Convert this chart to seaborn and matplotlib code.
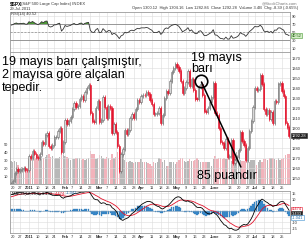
import matplotlib
matplotlib.use('Agg')

import numpy as np
import pandas as pd
import matplotlib.pyplot as plt
import seaborn as sns

sns.set_style("white")
plt.rcParams['font.family'] = ['Liberation Sans', 'DejaVu Sans']

# ─────────────────────────────────────────
# data: S&P 500 daily closes (Sep-Nov 2010 = warm-up for RSI / MACD)
# ─────────────────────────────────────────
close_sep = [1080.29, 1090.10, 1104.51, 1091.84, 1098.87, 1104.18, 1109.55, 1121.90, 1121.10, 1125.07,
             1124.66, 1125.59, 1142.71, 1139.78, 1134.28, 1124.83, 1148.67, 1142.16, 1147.70, 1144.73,
             1141.20]
close_oct = [1146.24, 1137.03, 1160.75, 1159.97, 1158.06, 1165.15, 1165.32, 1169.77, 1178.10, 1173.81,
             1176.19, 1184.71, 1165.90, 1178.17, 1180.26, 1183.08, 1185.62, 1185.64, 1182.45, 1183.78,
             1183.26]
close_nov = [1184.38, 1193.57, 1197.96, 1221.06, 1225.85, 1223.25, 1213.40, 1218.71, 1213.54, 1199.21,
             1197.75, 1178.34, 1178.59, 1196.69, 1199.73, 1197.84, 1180.73, 1198.35, 1189.40, 1187.76, 1180.55]
close_dec = [1206.07, 1221.53, 1224.71, 1223.12, 1223.75, 1228.28, 1233.00, 1240.40, 1240.46, 1241.59,
             1235.23, 1242.87, 1243.91, 1247.08, 1254.60, 1258.84, 1256.77, 1257.54, 1258.51, 1259.78,
             1257.88, 1257.64]
close_jan = [1271.87, 1270.20, 1276.56, 1273.85, 1271.50, 1269.75, 1274.48, 1285.96, 1283.76, 1293.24,
             1295.02, 1281.92, 1280.26, 1283.35, 1290.84, 1291.18, 1296.63, 1299.54, 1276.34, 1286.12]
close_feb = [1307.59, 1304.03, 1307.10, 1310.87, 1319.05, 1324.57, 1320.88, 1321.87, 1329.15, 1332.32,
             1328.01, 1336.32, 1340.43, 1343.01, 1315.44, 1307.40, 1306.10, 1319.88, 1327.22]
close_mar = [1306.33, 1308.44, 1330.97, 1321.15, 1310.13, 1321.82, 1320.02, 1295.11, 1304.28, 1296.39,
             1281.87, 1256.88, 1273.72, 1279.21, 1298.38, 1293.77, 1297.54, 1309.66, 1313.80, 1310.19,
             1319.44, 1328.26, 1325.83]
close_apr = [1332.41, 1332.87, 1332.63, 1335.54, 1333.51, 1328.17, 1324.46, 1314.16, 1314.41, 1314.52,
             1319.68, 1305.14, 1312.62, 1330.36, 1337.38, 1335.25, 1347.24, 1355.66, 1360.48, 1363.61]
close_may = [1361.22, 1356.62, 1347.32, 1335.10, 1340.20, 1346.29, 1357.16, 1342.08, 1348.65, 1337.77,
             1329.47, 1328.98, 1340.68, 1343.60, 1333.27, 1317.37, 1316.28, 1320.47, 1325.69, 1331.10,
             1345.20]
close_jun = [1314.55, 1312.94, 1300.16, 1286.17, 1284.94, 1279.56, 1289.00, 1270.98, 1271.83, 1287.87,
             1265.42, 1267.64, 1271.50, 1278.36, 1295.52, 1287.14, 1283.50, 1268.45, 1280.10, 1296.67,
             1307.41, 1320.64]
close_jul = [1339.67, 1337.88, 1339.22, 1353.22, 1343.80, 1319.49, 1313.64, 1317.72, 1308.87, 1316.14,
             1305.44, 1326.73, 1325.84, 1343.80, 1345.02, 1337.43, 1331.94, 1304.89, 1300.67, 1292.28]

# volume (left-axis units) from 17 Dec 2010 on
vol_dec = [29, 28, 29, 27, 24, 19, 21, 20, 21, 19]
vol_jan = [33, 34, 35, 34, 33, 33, 32, 35, 33, 34, 36, 38, 34, 35, 31, 33, 33, 34, 42, 36]
vol_feb = [35, 34, 32, 30, 31, 31, 33, 32, 33, 30, 31, 30, 31, 33, 41, 38, 37, 31, 33]
vol_mar = [36, 35, 33, 31, 34, 33, 30, 38, 33, 34, 40, 44, 38, 42, 30, 28, 27, 29, 27, 26, 27, 27, 28]
vol_apr = [31, 27, 28, 27, 26, 25, 23, 28, 26, 27, 32, 31, 28, 30, 22, 23, 27, 28, 27, 25]
vol_may = [28, 30, 32, 32, 29, 27, 29, 31, 29, 29, 30, 33, 30, 28, 28, 28, 27, 28, 27, 23, 31]
vol_jun = [35, 31, 33, 32, 31, 33, 31, 34, 31, 29, 35, 34, 40, 29, 30, 29, 29, 43, 30, 28, 30, 30]
vol_jul = [30, 24, 28, 30, 27, 31, 31, 30, 32, 32, 32, 31, 30, 33, 30, 31, 33, 36, 37, 37]

holidays = ['2010-09-06', '2010-11-25', '2010-12-24', '2011-01-17', '2011-02-21', '2011-04-22',
            '2011-05-30', '2011-07-04']

tick_dates = ['2010-12-20', '2010-12-27', '2011-01-03', '2011-01-10', '2011-01-18', '2011-01-24',
              '2011-02-01', '2011-02-07', '2011-02-14', '2011-02-22', '2011-03-01', '2011-03-07',
              '2011-03-14', '2011-03-21', '2011-03-28', '2011-04-01', '2011-04-11', '2011-04-18',
              '2011-04-25', '2011-05-02', '2011-05-09', '2011-05-16', '2011-05-23', '2011-06-01',
              '2011-06-13', '2011-06-20', '2011-06-27', '2011-07-01', '2011-07-11', '2011-07-18',
              '2011-07-25']
tick_labels = ['20', '27', '2011', '10', '18', '24', 'Feb', '7', '14', '22', 'Mar', '7', '14', '21', '28',
               'Apr', '11', '18', '25', 'May', '9', '16', '23', 'June', '13', '20', '27', 'Jul', '11',
               '18', '25']
month_labels = ['2011', 'Feb', 'Mar', 'Apr', 'May', 'June', 'Jul']

price_ticks = list(range(1250, 1380, 10))
rsi_ticks = [10, 30, 50, 70, 90]
vol_ticks = [10, 20, 30, 40, 50]
macd_ticks = [-15, -10, -5, 0, 5, 10, 15]

# last-value labels as printed on the chart
rsi_last = '40.52'
price_last = '1292.28'
macd_last = ['4.474', '3.433', '-1.041']   # signal, macd, histogram

# ─────────────────────────────────────────
# indicators
# ─────────────────────────────────────────
dates = pd.bdate_range('2010-09-01', '2011-07-29')
dates = dates[~dates.isin(pd.to_datetime(holidays))]
closes = (close_sep + close_oct + close_nov + close_dec + close_jan + close_feb + close_mar
          + close_apr + close_may + close_jun + close_jul)
df = pd.DataFrame({"date": dates, "close": closes})
df["open"] = df["close"].shift(1)

delta = df["close"].diff()
up = delta.clip(lower=0).ewm(alpha=1 / 14, adjust=False).mean()
dn = (-delta.clip(upper=0)).ewm(alpha=1 / 14, adjust=False).mean()
df["rsi"] = 100 - 100 / (1 + up / dn)
ema12 = df["close"].ewm(span=12, adjust=False).mean()
ema26 = df["close"].ewm(span=26, adjust=False).mean()
df["macd"] = ema12 - ema26
df["signal"] = df["macd"].ewm(span=9, adjust=False).mean()
df["hist"] = df["macd"] - df["signal"]

view = df[df["date"] >= "2010-12-17"].reset_index(drop=True)
view["i"] = np.arange(len(view))
view["volume"] = vol_dec + vol_jan + vol_feb + vol_mar + vol_apr + vol_may + vol_jun + vol_jul
view["down"] = view["close"] < view["open"]

tick_idx = [int(view.index[view["date"] == pd.Timestamp(d)][0]) for d in tick_dates]

# ─────────────────────────────────────────
# figure layout (pixel based, 308 x 242)
# ─────────────────────────────────────────
W, H = 308, 242
fig = plt.figure(figsize=(W / 100, H / 100), dpi=100)
fig.patch.set_facecolor('white')


def box(top, bottom, left=10, right=290):
    return [left / W, (H - bottom) / H, (right - left) / W, (bottom - top) / H]


ax_rsi = fig.add_axes(box(12, 52))
ax_main = fig.add_axes(box(52, 184))
ax_vol = ax_main.twinx()
ax_macd = fig.add_axes(box(191, 233))

RED = '#e3142c'
BLUE = '#3b8ed0'
GRID = '#dcdcdc'
SPINE = '#9a9a9a'
TXT = '#333333'
FS = 2.9

xlim = (-0.5, len(view) - 0.5)
for ax in (ax_rsi, ax_main, ax_macd):
    ax.set_xlim(*xlim)
    for x in tick_idx:
        ax.axvline(x, color=GRID, lw=0.4, zorder=0)
    for s in ax.spines.values():
        s.set_color(SPINE)
        s.set_linewidth(0.6)
    ax.yaxis.tick_right()
    ax.tick_params(axis='both', length=0, pad=1.5, labelsize=FS, colors=TXT)


def last_box(ax, yfrac, text, fc, ec, tc):
    ax.text(1.006, yfrac, text, transform=ax.transAxes, fontsize=FS, va='center', ha='left', color=tc,
            bbox=dict(boxstyle='square,pad=0.12', fc=fc, ec=ec, lw=0.4), clip_on=False)


# --- RSI panel
ax_rsi.set_ylim(0, 100)
for v in rsi_ticks:
    ax_rsi.axhline(v, color=GRID, lw=0.4, zorder=0)
ax_rsi.axhline(70, color='#8a8a8a', lw=0.6)
ax_rsi.axhline(30, color='#8a8a8a', lw=0.6)
ax_rsi.axhline(50, color='#8a8a8a', lw=0.5, ls=(0, (3, 2)))
ax_rsi.fill_between(view["i"], 70, view["rsi"], where=view["rsi"] > 70, color='#4c9a35',
                    interpolate=True, lw=0)
sns.lineplot(data=view, x="i", y="rsi", ax=ax_rsi, color='#333333', lw=0.6)
ax_rsi.set_yticks(rsi_ticks)
ax_rsi.set_xticks([])
ax_rsi.set_xlabel('')
ax_rsi.set_ylabel('')
last_box(ax_rsi, view["rsi"].iloc[-1] / 100, rsi_last, '#d5efc8', '#4c9a35', '#1f5a12')

# --- price panel
ax_main.set_ylim(1244, 1376)
for v in price_ticks:
    ax_main.axhline(v, color=GRID, lw=0.4, zorder=0)
ax_main.set_yticks(price_ticks)
lo = view[["open", "close"]].min(axis=1)
hi = view[["open", "close"]].max(axis=1)
col = np.where(view["down"], RED, '#6e6e6e')
face = np.where(view["down"], RED, '#d8d8d8')
ax_main.vlines(view["i"], lo - 2, hi + 2, color=col, lw=0.5, zorder=3)
ax_main.bar(view["i"], (hi - lo).clip(lower=0.6), bottom=lo, width=0.7, color=face,
            edgecolor=col, lw=0.4, zorder=4)
ax_main.set_xticks(tick_idx)
ax_main.set_xticklabels(tick_labels)
last_box(ax_main, (view["close"].iloc[-1] - 1244) / 132, price_last, '#222222', '#222222', 'white')

# volume overlay (behind the candles)
ax_vol.bar(view["i"], view["volume"], width=0.8, color=np.where(view["down"], '#f2b3bb', '#b8b8b8'), lw=0)
ax_vol.set_ylim(0, 165)
ax_vol.set_yticks(vol_ticks)
ax_vol.yaxis.tick_left()
ax_vol.tick_params(axis='y', length=0, pad=1.5, labelsize=FS, colors=TXT)
for s in ax_vol.spines.values():
    s.set_visible(False)
ax_main.set_zorder(ax_vol.get_zorder() + 1)
ax_main.patch.set_visible(False)
ax_vol.patch.set_visible(True)
ax_vol.patch.set_facecolor('white')

# --- MACD panel
ax_macd.set_ylim(-19, 17)
for v in macd_ticks:
    ax_macd.axhline(v, color=GRID, lw=0.4, zorder=0)
ax_macd.bar(view["i"], view["hist"], width=0.8, color=BLUE, edgecolor='#2a6fa8', lw=0.2)
ax_macd.axhline(0, color='#7a9fbf', lw=0.4)
sns.lineplot(data=view, x="i", y="signal", ax=ax_macd, color=RED, lw=0.6)
sns.lineplot(data=view, x="i", y="macd", ax=ax_macd, color='black', lw=0.6)
ax_macd.set_yticks(macd_ticks)
ax_macd.set_yticklabels(['-15', '-10', '', '', '', '10', '15'])
ax_macd.set_xticks(tick_idx)
ax_macd.set_xticklabels(tick_labels)
ax_macd.set_xlabel('')
ax_macd.set_ylabel('')
last_box(ax_macd, 0.56, macd_last[0], 'white', RED, RED)
last_box(ax_macd, 0.46, macd_last[1], '#222222', '#222222', 'white')
last_box(ax_macd, 0.36, macd_last[2], 'white', BLUE, '#2a6fa8')

for ax in (ax_main, ax_macd):
    for lab in ax.get_xticklabels():
        if lab.get_text() in month_labels:
            lab.set_fontweight('bold')

# ─────────────────────────────────────────
# header texts
# ─────────────────────────────────────────
def px(x, y):
    return x / W, 1 - y / H


fig.text(*px(10, 3.5), r'\$SPX', fontsize=3.4, fontweight='bold', va='center', color='black')
fig.text(*px(21, 3.5), '(S&P 500 Large Cap Index) INDEX', fontsize=3.0, va='center', color=TXT)
fig.text(*px(10, 8.5), '29-Jul-2011', fontsize=3.0, va='center', color=TXT)
fig.text(*px(11, 14), 'RSI(14) 40.52', fontsize=3.0, va='center', color=TXT)
fig.text(*px(297, 3.5), '@StockCharts.com', fontsize=3.0, va='center', ha='right', color='#777777')
fig.text(*px(298, 8.5), 'Open 1300.12  High 1304.16  Low 1282.86  Close 1292.28  Volume 3.4B  Chg -8.39 (-0.65%)',
         fontsize=2.9, va='center', ha='right', color=TXT)
fig.text(*px(12, 193.5), 'MACD(12,26,9) 3.433,', fontsize=3.0, va='center', color='black')
fig.text(*px(55, 193.5), '4.474,', fontsize=3.0, va='center', color=RED)
fig.text(*px(66, 193.5), '-1.041', fontsize=3.0, va='center', color='#2a6fa8')

# ─────────────────────────────────────────
# annotations
# ─────────────────────────────────────────
ANN = 9.0
for y, line in [(64.5, '19 mayıs barı çalışmıştır,'), (78, '2 mayısa göre alçalan'), (91.5, 'tepedir.')]:
    fig.text(*px(2, y), line, fontsize=ANN, va='baseline', ha='left', color='black')
fig.text(*px(191, 61), '19 mayıs', fontsize=ANN, va='baseline', ha='left', color='black')
fig.text(*px(191, 72.5), 'barı', fontsize=ANN, va='baseline', ha='left', color='black')
fig.text(*px(197, 178.5), '85 puandır', fontsize=ANN, va='baseline', ha='left', color='black')

i_may19 = int(view.index[view["date"] == pd.Timestamp('2011-05-19')][0])
i_jun21 = int(view.index[view["date"] == pd.Timestamp('2011-06-21')][0])
ax_main.plot([i_may19], [1347.5], 'o', ms=9, mfc='none', mec='black', mew=1.2, zorder=6, clip_on=False)
ax_main.plot([i_may19 + 0.5, i_jun21 + 0.3], [1346, 1261], color='black', lw=1.1, zorder=6, clip_on=False)

fig.savefig('out.png', dpi=100, facecolor='white')
